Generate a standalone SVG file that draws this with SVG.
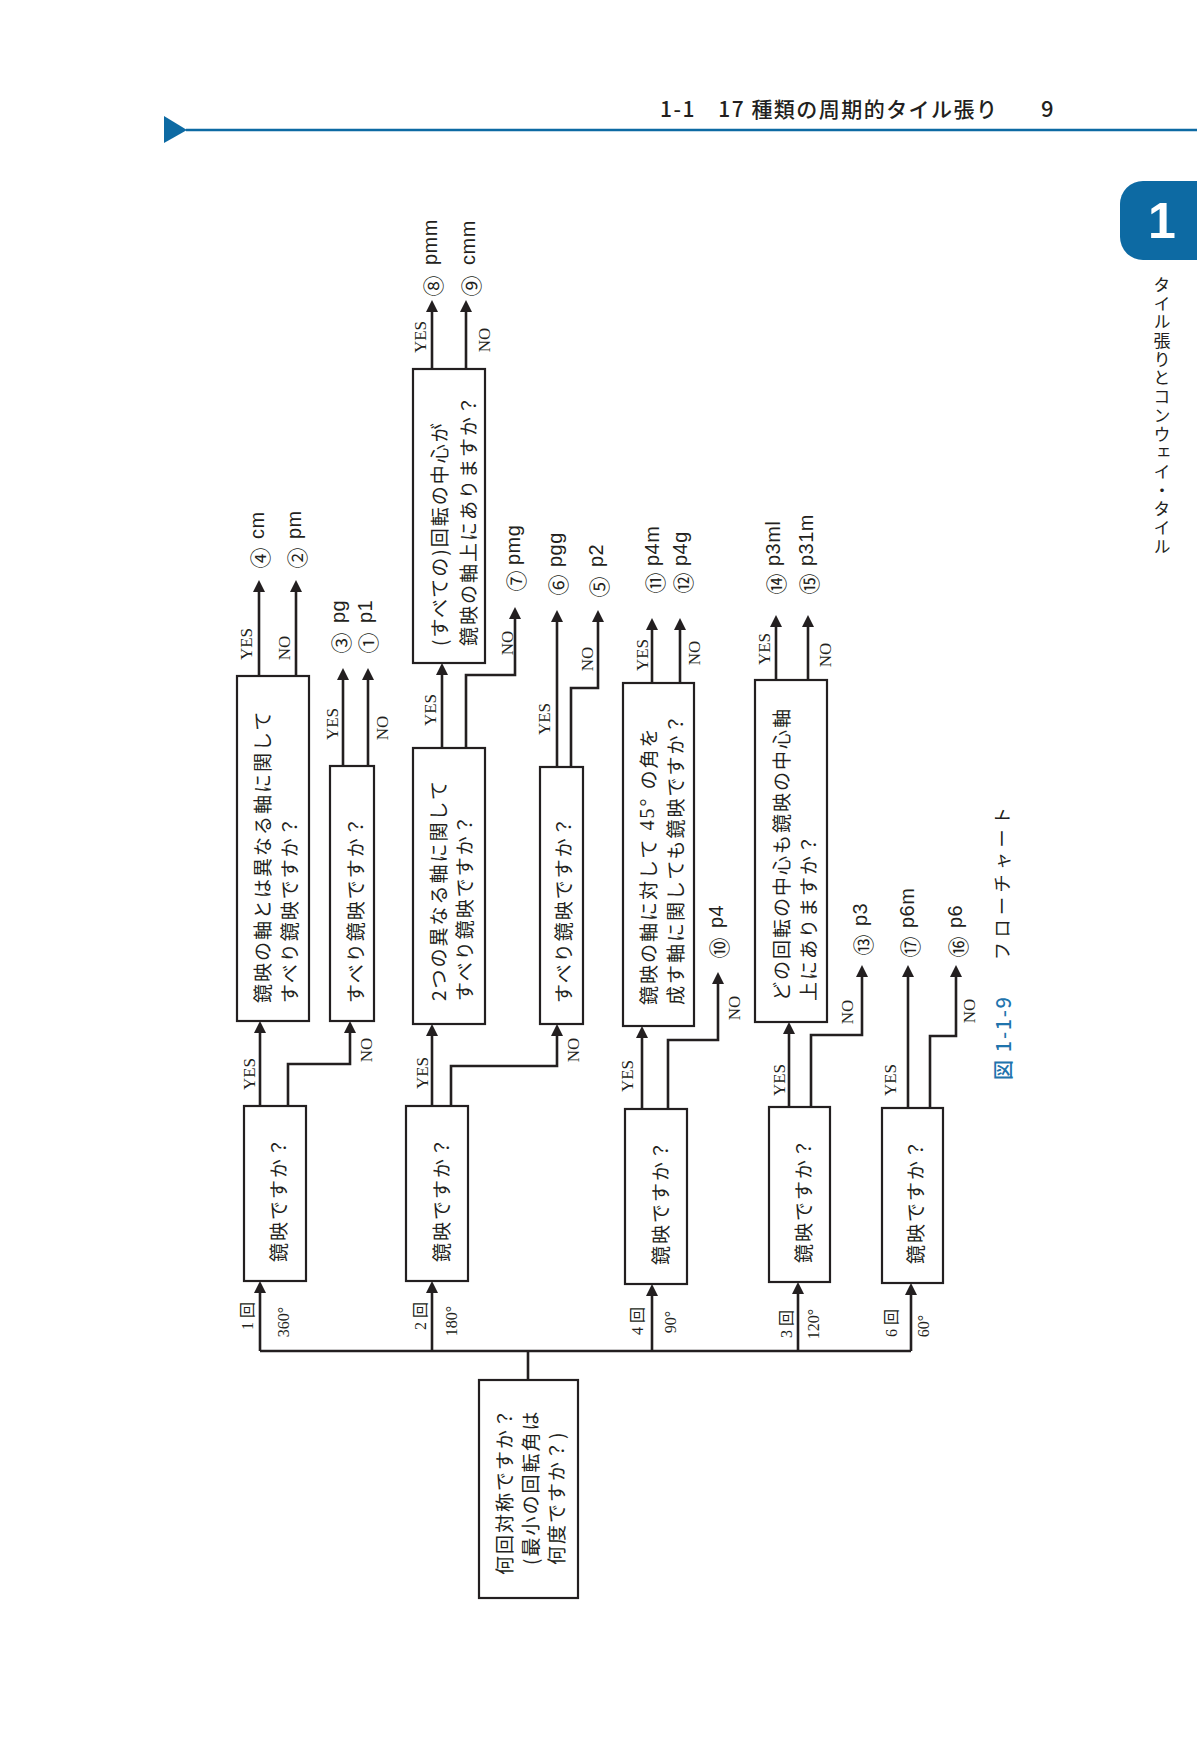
<svg xmlns="http://www.w3.org/2000/svg" width="1197" height="1756" viewBox="0 0 1197 1756">
<defs>
<marker id="ah" markerUnits="userSpaceOnUse" viewBox="0 0 12 12" markerWidth="12" markerHeight="12" refX="6" refY="6" orient="auto">
<path d="M0,0 L12,6 L0,12 z" fill="#231f20"/>
</marker>
<style>
.box{fill:#fff;stroke:#231f20;stroke-width:2.2}
.c{fill:none;stroke:#231f20;stroke-width:2.6}
.a{marker-end:url(#ah)}
.jt{font-family:"Noto Sans CJK JP",sans-serif;font-size:19px;letter-spacing:2px;fill:#231f20;dominant-baseline:central}
.yn{font-family:"Liberation Serif",serif;font-size:17px;fill:#231f20;dominant-baseline:central;text-anchor:middle}
.br{font-family:"Liberation Serif","Noto Sans CJK JP",serif;font-size:16px;fill:#231f20;dominant-baseline:central;text-anchor:middle}
.cn{font-family:"Noto Sans CJK JP",sans-serif;font-size:21px;fill:#231f20;dominant-baseline:central;text-anchor:middle}
.nm{font-family:"Liberation Sans",sans-serif;font-size:20px;letter-spacing:0.5px;fill:#231f20}
.blue{fill:#0d6aa3}
</style>
</defs>
<rect width="1197" height="1756" fill="#fff"/>

<g id="header">
<polygon class="blue" points="164,116 187,130 164,143"/>
<line x1="186" y1="130" x2="1197" y2="130" stroke="#0d6aa3" stroke-width="2.6"/>
<text x="660" y="117" font-family="Noto Sans CJK JP, sans-serif" font-size="21" font-weight="500" textLength="337" lengthAdjust="spacing" fill="#231f20">1-1　17 種類の周期的タイル張り</text>
<text x="1041" y="117" font-family="Noto Sans CJK JP, sans-serif" font-size="22" font-weight="500" fill="#231f20">9</text>
</g>

<g id="chapter-tab">
<path class="blue" d="M1197,181 H1143 A23,23 0 0 0 1120,204 V237 A23,23 0 0 0 1143,260 H1197 Z"/>
<text x="1162" y="238" font-family="Liberation Sans, sans-serif" font-weight="bold" font-size="50" fill="#fff" text-anchor="middle">1</text>
<text x="1162" y="276" font-family="Noto Sans CJK JP, sans-serif" font-size="17" letter-spacing="1.7" fill="#231f20" style="writing-mode:vertical-rl">タイル張りとコンウェイ・タイル</text>
</g>

<g id="connectors">
<path class="c" d="M528,1380 V1351"/>
<path class="c" d="M260,1351 H911"/>
<path class="c a" d="M260,1351 V1287"/>
<path class="c a" d="M432,1351 V1287"/>
<path class="c a" d="M652,1351 V1290"/>
<path class="c a" d="M798,1351 V1288"/>
<path class="c a" d="M911,1351 V1289"/>

<path class="c a" d="M260,1106 V1027"/>
<path class="c a" d="M288,1106 V1064 H350 V1027"/>
<path class="c a" d="M432,1106 V1030"/>
<path class="c a" d="M451,1106 V1066 H557 V1030"/>
<path class="c a" d="M642,1109 V1032"/>
<path class="c a" d="M668,1109 V1040 H718 V978"/>
<path class="c a" d="M789,1107 V1028"/>
<path class="c a" d="M811,1107 V1035 H862 V971"/>
<path class="c a" d="M908,1108 V971"/>
<path class="c a" d="M930,1108 V1036 H956 V971"/>

<path class="c a" d="M259,676 V586"/>
<path class="c a" d="M296,676 V586"/>
<path class="c a" d="M343,766 V674"/>
<path class="c a" d="M368,766 V674"/>
<path class="c a" d="M442,748 V669"/>
<path class="c a" d="M466,748 V675 H515 V613"/>
<path class="c a" d="M432,369 V306"/>
<path class="c a" d="M466,369 V306"/>
<path class="c a" d="M557,767 V616"/>
<path class="c a" d="M571,767 V688 H598 V616"/>
<path class="c a" d="M652,683 V624"/>
<path class="c a" d="M680,683 V624"/>
<path class="c a" d="M776,680 V621"/>
<path class="c a" d="M808,680 V621"/>
</g>

<g id="edge-labels">
<text class="br" transform="translate(247,1316) rotate(-90)">1 回</text>
<text class="br" transform="translate(283,1322) rotate(-90)">360°</text>
<text class="br" transform="translate(420,1316) rotate(-90)">2 回</text>
<text class="br" transform="translate(451,1321) rotate(-90)">180°</text>
<text class="br" transform="translate(637,1321) rotate(-90)">4 回</text>
<text class="br" transform="translate(670,1322) rotate(-90)">90°</text>
<text class="br" transform="translate(786,1324) rotate(-90)">3 回</text>
<text class="br" transform="translate(813,1324) rotate(-90)">120°</text>
<text class="br" transform="translate(891,1323) rotate(-90)">6 回</text>
<text class="br" transform="translate(923,1326) rotate(-90)">60°</text>

<text class="yn" transform="translate(249,1074) rotate(-90)">YES</text>
<text class="yn" transform="translate(366,1050) rotate(-90)">NO</text>
<text class="yn" transform="translate(422,1073) rotate(-90)">YES</text>
<text class="yn" transform="translate(573,1050) rotate(-90)">NO</text>
<text class="yn" transform="translate(627,1076) rotate(-90)">YES</text>
<text class="yn" transform="translate(734,1008) rotate(-90)">NO</text>
<text class="yn" transform="translate(779,1080) rotate(-90)">YES</text>
<text class="yn" transform="translate(847,1012) rotate(-90)">NO</text>
<text class="yn" transform="translate(890,1080) rotate(-90)">YES</text>
<text class="yn" transform="translate(969,1011) rotate(-90)">NO</text>

<text class="yn" transform="translate(246,644) rotate(-90)">YES</text>
<text class="yn" transform="translate(284,648) rotate(-90)">NO</text>
<text class="yn" transform="translate(332,724) rotate(-90)">YES</text>
<text class="yn" transform="translate(382,728) rotate(-90)">NO</text>
<text class="yn" transform="translate(430,710) rotate(-90)">YES</text>
<text class="yn" transform="translate(507,643) rotate(-90)">NO</text>
<text class="yn" transform="translate(420,337) rotate(-90)">YES</text>
<text class="yn" transform="translate(484,340) rotate(-90)">NO</text>
<text class="yn" transform="translate(544,719) rotate(-90)">YES</text>
<text class="yn" transform="translate(587,659) rotate(-90)">NO</text>
<text class="yn" transform="translate(642,655) rotate(-90)">YES</text>
<text class="yn" transform="translate(694,653) rotate(-90)">NO</text>
<text class="yn" transform="translate(764,649) rotate(-90)">YES</text>
<text class="yn" transform="translate(825,655) rotate(-90)">NO</text>
</g>

<g id="root">
<rect class="box" x="479" y="1380" width="99" height="218"/>
<text class="jt" transform="translate(503,1575) rotate(-90)">何回対称ですか？</text>
<text class="jt" transform="translate(529,1565) rotate(-90)">(最小の回転角は</text>
<text class="jt" transform="translate(555,1565) rotate(-90)">何度ですか？)</text>
</g>

<g id="q1-1"><rect class="box" x="244" y="1106" width="62" height="175"/>
<text class="jt" transform="translate(277,1262) rotate(-90)">鏡映ですか？</text></g>
<g id="q2-1"><rect class="box" x="406" y="1106" width="62" height="175"/>
<text class="jt" transform="translate(440,1262) rotate(-90)">鏡映ですか？</text></g>
<g id="q4-1"><rect class="box" x="625" y="1109" width="62" height="175"/>
<text class="jt" transform="translate(659,1265) rotate(-90)">鏡映ですか？</text></g>
<g id="q3-1"><rect class="box" x="769" y="1107" width="61" height="175"/>
<text class="jt" transform="translate(802,1263) rotate(-90)">鏡映ですか？</text></g>
<g id="q6-1"><rect class="box" x="882" y="1108" width="61" height="175"/>
<text class="jt" transform="translate(914,1264) rotate(-90)">鏡映ですか？</text></g>

<g id="q1-2"><rect class="box" x="237" y="676" width="72" height="345"/>
<text class="jt" transform="translate(261,1003) rotate(-90)">鏡映の軸とは異なる軸に関して</text>
<text class="jt" transform="translate(288,1003) rotate(-90)">すべり鏡映ですか？</text></g>
<g id="q1-3"><rect class="box" x="330" y="766" width="44" height="255"/>
<text class="jt" transform="translate(354,1003) rotate(-90)">すべり鏡映ですか？</text></g>
<g id="q2-2"><rect class="box" x="413" y="748" width="72" height="276"/>
<text class="jt" transform="translate(437,1001) rotate(-90)">2つの異なる軸に関して</text>
<text class="jt" transform="translate(463,1001) rotate(-90)">すべり鏡映ですか？</text></g>
<g id="q2-3"><rect class="box" x="413" y="369" width="72" height="294"/>
<text class="jt" transform="translate(438,646) rotate(-90)">(すべての)回転の中心が</text>
<text class="jt" transform="translate(467,646) rotate(-90)">鏡映の軸上にありますか？</text></g>
<g id="q2-4"><rect class="box" x="540" y="767" width="43" height="257"/>
<text class="jt" transform="translate(562,1003) rotate(-90)">すべり鏡映ですか？</text></g>
<g id="q4-2"><rect class="box" x="623" y="683" width="71" height="343"/>
<text class="jt" transform="translate(647,1005) rotate(-90)">鏡映の軸に対して<tspan font-family="Liberation Serif, serif" font-size="20"> 45° </tspan>の角を</text>
<text class="jt" transform="translate(674,1005) rotate(-90)">成す軸に関しても鏡映ですか？</text></g>
<g id="q3-2"><rect class="box" x="755" y="680" width="72" height="342"/>
<text class="jt" transform="translate(780,1001) rotate(-90)">どの回転の中心も鏡映の中心軸</text>
<text class="jt" transform="translate(807,1001) rotate(-90)">上にありますか？</text></g>

<g id="r4"><text class="cn" transform="translate(259,558) rotate(-90)">④</text><text class="nm" transform="translate(264,539) rotate(-90)">cm</text></g>
<g id="r2"><text class="cn" transform="translate(296,558) rotate(-90)">②</text><text class="nm" transform="translate(301,539) rotate(-90)">pm</text></g>
<g id="r3"><text class="cn" transform="translate(340,643) rotate(-90)">③</text><text class="nm" transform="translate(345,623) rotate(-90)">pg</text></g>
<g id="r1"><text class="cn" transform="translate(367,643) rotate(-90)">①</text><text class="nm" transform="translate(372,623) rotate(-90)">p1</text></g>
<g id="r8"><text class="cn" transform="translate(432,286) rotate(-90)">⑧</text><text class="nm" transform="translate(437,265) rotate(-90)">pmm</text></g>
<g id="r9"><text class="cn" transform="translate(470,286) rotate(-90)">⑨</text><text class="nm" transform="translate(475,265) rotate(-90)">cmm</text></g>
<g id="r7"><text class="cn" transform="translate(515,581) rotate(-90)">⑦</text><text class="nm" transform="translate(520,565) rotate(-90)">pmg</text></g>
<g id="r6"><text class="cn" transform="translate(557,585) rotate(-90)">⑥</text><text class="nm" transform="translate(562,567) rotate(-90)">pgg</text></g>
<g id="r5"><text class="cn" transform="translate(598,587) rotate(-90)">⑤</text><text class="nm" transform="translate(603,567) rotate(-90)">p2</text></g>
<g id="r11"><text class="cn" transform="translate(654,583) rotate(-90)">⑪</text><text class="nm" transform="translate(659,566) rotate(-90)">p4m</text></g>
<g id="r12"><text class="cn" transform="translate(682,583) rotate(-90)">⑫</text><text class="nm" transform="translate(687,566) rotate(-90)">p4g</text></g>
<g id="r14"><text class="cn" transform="translate(775,584) rotate(-90)">⑭</text><text class="nm" transform="translate(780,566) rotate(-90)">p3ml</text></g>
<g id="r15"><text class="cn" transform="translate(808,584) rotate(-90)">⑮</text><text class="nm" transform="translate(813,566) rotate(-90)">p31m</text></g>
<g id="r10"><text class="cn" transform="translate(718,948) rotate(-90)">⑩</text><text class="nm" transform="translate(723,928) rotate(-90)">p4</text></g>
<g id="r13"><text class="cn" transform="translate(862,945) rotate(-90)">⑬</text><text class="nm" transform="translate(867,926) rotate(-90)">p3</text></g>
<g id="r17"><text class="cn" transform="translate(909,947) rotate(-90)">⑰</text><text class="nm" transform="translate(914,928) rotate(-90)">p6m</text></g>
<g id="r16"><text class="cn" transform="translate(957,947) rotate(-90)">⑯</text><text class="nm" transform="translate(962,928) rotate(-90)">p6</text></g>

<g id="caption">
<text transform="translate(1002,1080) rotate(-90)" font-family="Noto Sans CJK JP, sans-serif" font-size="20" font-weight="500" fill="#1f74ad" dominant-baseline="central" textLength="83" lengthAdjust="spacing">図 1-1-9</text>
<text transform="translate(1001,960) rotate(-90)" font-family="Noto Sans CJK JP, sans-serif" font-size="18" fill="#231f20" dominant-baseline="central" textLength="153" lengthAdjust="spacing">フローチャート</text>
</g>
</svg>
